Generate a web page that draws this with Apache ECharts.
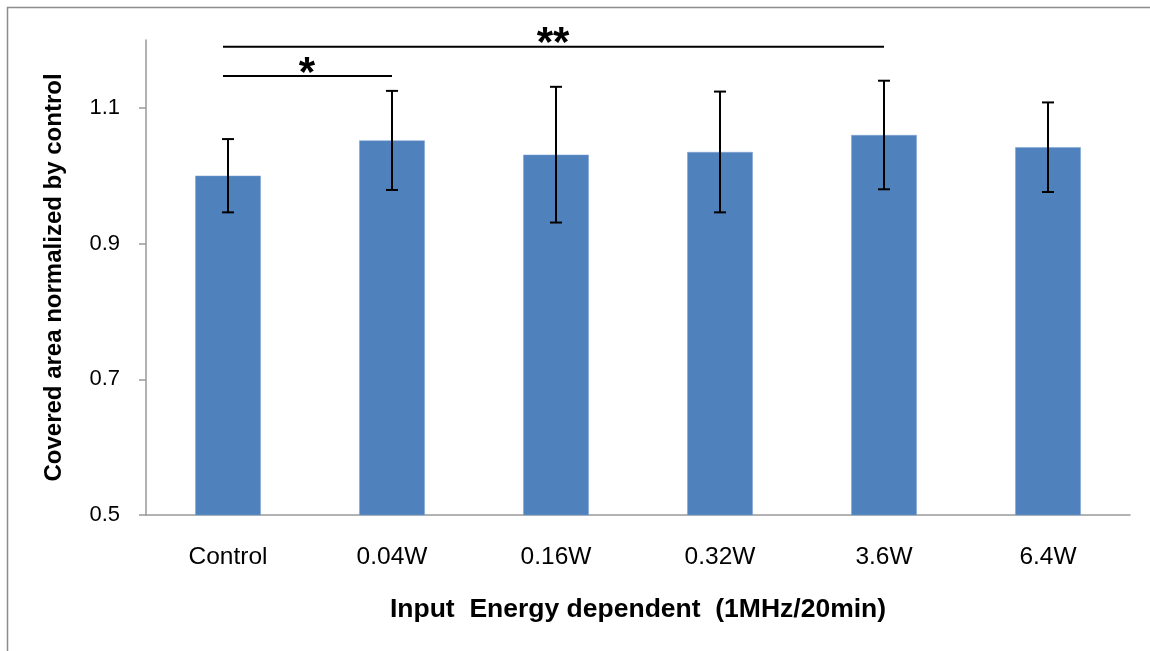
<!DOCTYPE html>
<html>
<head>
<meta charset="utf-8">
<script src="https://cdn.jsdelivr.net/npm/echarts@6/dist/echarts.min.js"></script>
<style>
  html, body { margin: 0; padding: 0; background: #fff; }
  #main { width: 1150px; height: 651px; }
</style>
</head>
<body>
<div id="main"></div>
<script>
const categories = ["Control", "0.04W", "0.16W", "0.32W", "3.6W", "6.4W"];
const means = [1.000, 1.052, 1.031, 1.035, 1.060, 1.042];
const errors = [0.054, 0.073, 0.100, 0.089, 0.080, 0.066];
const yTicks = [0.5, 0.7, 0.9, 1.1];
// significance brackets: [from index, to index, y value, label]
const brackets = [
  [0, 4, 1.19, "**"],
  [0, 1, 1.147, "*"]
];

const FONT = "'Liberation Sans', Arial, sans-serif";
const chart = echarts.init(document.getElementById("main"));

const errData = means.map(function (m, i) { return [i, m - errors[i], m + errors[i]]; });

const option = {
  animation: false,
  backgroundColor: "#fff",
  graphic: [{
    type: "rect",
    shape: { x: 7.5, y: 7.5, width: 1160, height: 660 },
    style: { fill: "none", stroke: "#8c8c8c", lineWidth: 1.5 },
    silent: true
  }],
  grid: { left: 146, right: 20, top: 40, bottom: 136 },
  xAxis: {
    type: "category",
    data: categories,
    axisLine: { lineStyle: { color: "#999", width: 1.5 } },
    axisTick: { show: false },
    axisLabel: {
      margin: 30,
      color: "#000",
      fontSize: 24.5,
      fontFamily: FONT
    },
    name: "Input  Energy dependent  (1MHz/20min)",
    nameLocation: "middle",
    nameGap: 81,
    nameTextStyle: {
      color: "#000",
      fontSize: 26.5,
      fontWeight: "bold",
      fontFamily: FONT
    }
  },
  yAxis: {
    type: "value",
    min: 0.5,
    max: 1.2,
    interval: 0.2,
    splitLine: { show: false },
    axisLine: { show: true, lineStyle: { color: "#999", width: 1.5 } },
    axisTick: { show: true, length: 7, customValues: yTicks, lineStyle: { color: "#999", width: 1.5 } },
    axisLabel: {
      customValues: yTicks,
      margin: 26,
      color: "#000",
      fontSize: 22,
      fontFamily: FONT,
      formatter: function (v) { return v.toFixed(1); }
    },
    name: "Covered area normalized by control",
    nameLocation: "middle",
    nameGap: 80,
    nameTextStyle: {
      color: "#000",
      fontSize: 24,
      fontWeight: "bold",
      fontFamily: FONT
    }
  },
  series: [
    {
      type: "bar",
      data: means,
      barWidth: "40%",
      itemStyle: { color: "#4F81BD", borderColor: "#7fa3d1", borderWidth: 0.5 }
    },
    {
      type: "custom",
      data: errData,
      z: 10,
      renderItem: function (params, api) {
        const i = api.value(0);
        const lo = api.coord([i, api.value(1)]);
        const hi = api.coord([i, api.value(2)]);
        const cap = 6;
        const st = { stroke: "#000", lineWidth: 2 };
        return {
          type: "group",
          children: [
            { type: "line", shape: { x1: hi[0], y1: hi[1], x2: lo[0], y2: lo[1] }, style: st },
            { type: "line", shape: { x1: hi[0] - cap, y1: hi[1], x2: hi[0] + cap, y2: hi[1] }, style: st },
            { type: "line", shape: { x1: lo[0] - cap, y1: lo[1], x2: lo[0] + cap, y2: lo[1] }, style: st }
          ]
        };
      }
    },
    {
      type: "custom",
      data: brackets,
      z: 10,
      clip: false,
      renderItem: function (params, api) {
        const a = api.coord([api.value(0), api.value(2)]);
        const b = api.coord([api.value(1), api.value(2)]);
        const label = brackets[params.dataIndex][3];
        return {
          type: "group",
          children: [
            { type: "line", shape: { x1: a[0] - 5, y1: a[1], x2: b[0], y2: b[1] }, style: { stroke: "#000", lineWidth: 2 } },
            {
              type: "text",
              x: (a[0] + b[0]) / 2 - 3,
              y: a[1] - 2,
              style: {
                text: label,
                fill: "#000",
                font: "bold 42px " + FONT,
                align: "center",
                verticalAlign: "middle"
              }
            }
          ]
        };
      }
    }
  ]
};

chart.setOption(option);
</script>
</body>
</html>
